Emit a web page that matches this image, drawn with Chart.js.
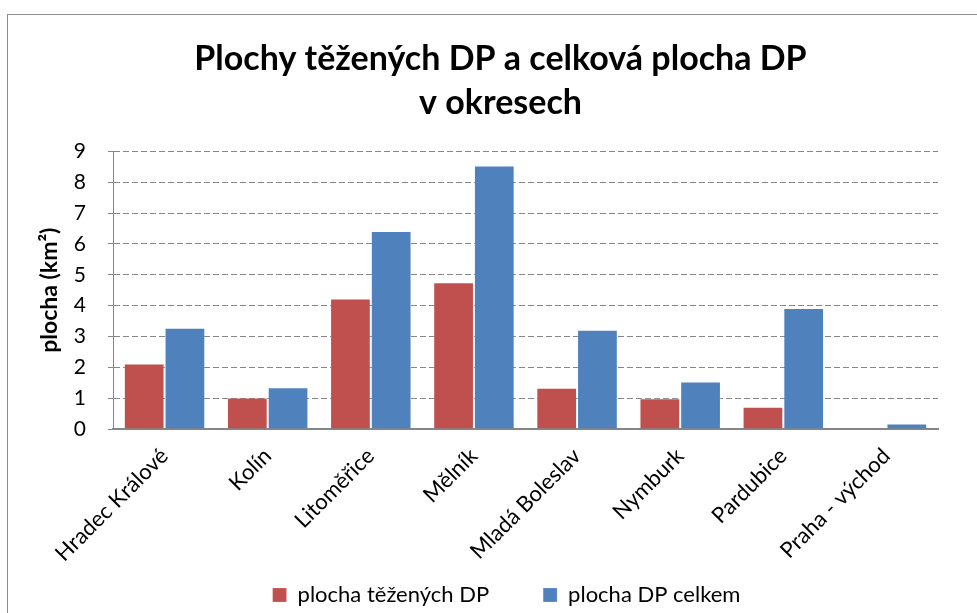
<!DOCTYPE html>
<html>
<head>
<meta charset="utf-8">
<script src="https://cdn.jsdelivr.net/npm/chart.js@4"></script>
<style>
  html, body { margin: 0; padding: 0; background: #fff; }
  #wrap { width: 977px; height: 613px; }
</style>
</head>
<body>
<div id="wrap"><canvas id="myChart"></canvas></div>
<script>
const okresy = ["Hradec Králové", "Kolín", "Litoměřice", "Mělník", "Mladá Boleslav", "Nymburk", "Pardubice", "Praha - východ"]
const tezene = [2.12, 1.02, 4.23, 4.76, 1.34, 1.00, 0.72, 0]
const celkem = [3.28, 1.35, 6.42, 8.54, 3.22, 1.54, 3.92, 0.18]

const FONT = "Lato, Carlito, Calibri, sans-serif"

// outer frame like the Excel chart area
const frame = {
  id: "frame",
  beforeDraw(chart) {
    // let the rotated category labels run below the axis box (they are clipped to it otherwise)
    const x = chart.scales.x
    x.bottom = x.top + 150
    // legend sits a bit right of centre in the original
    chart.legend.left += 6
    chart.legend.right += 6
  },
  afterDraw(chart) {
    const ctx = chart.ctx
    ctx.save()
    ctx.strokeStyle = "#8c8c8c"
    ctx.lineWidth = 1
    ctx.strokeRect(7.5, 14.5, 1000, 1000)
    ctx.restore()
  }
}

const ctx = document.getElementById("myChart").getContext("2d")
const chart = new Chart(ctx, {
  type: "bar",
  data: {
    labels: okresy,
    datasets: [
      { label: "plocha těžených DP", data: tezene, backgroundColor: "#C0504D", borderColor: "rgba(255,255,255,0.2)", borderWidth: 1, yAxisID: "y" },
      { label: "plocha DP celkem", data: celkem, backgroundColor: "#4F81BD", borderColor: "rgba(255,255,255,0.2)", borderWidth: 1, yAxisID: "y" }
    ]
  },
  options: {
    responsive: true,
    maintainAspectRatio: false,
    animation: false,
    layout: { padding: { left: 24, right: 0, top: 0, bottom: -3 } },
    datasets: { bar: { categoryPercentage: 0.79, barPercentage: 1.0 } },
    plugins: {
      title: {
        display: true,
        text: ["Plochy těžených DP a celková plocha DP", "v okresech"],
        color: "#000",
        font: { family: FONT, size: 34, weight: "bold", lineHeight: 1.3 },
        padding: { top: 37, bottom: 26 }
      },
      legend: {
        position: "bottom",
        labels: {
          color: "#000",
          font: { family: FONT, size: 22 },
          boxWidth: 14,
          boxHeight: 14,
          padding: 54
        }
      },
      tooltip: { enabled: false }
    },
    scales: {
      x: {
        grid: { display: false },
        border: { display: true, color: "#868686", width: 2 },
        ticks: {
          color: "#000",
          font: { family: FONT, size: 22 },
          minRotation: 45,
          maxRotation: 45,
          autoSkip: false,
          padding: 6
        },
        afterFit(scale) { scale.height = 101 }
      },
      y: {
        min: 0,
        max: 9,
        ticks: { stepSize: 1, color: "#000", font: { family: FONT, size: 21 }, padding: 22 },
        grid: { color: "#868686", lineWidth: 1, tickLength: 5, tickBorderDash: [] },
        border: { display: true, color: "#868686", width: 1, dash: [6, 3] },
        title: {
          display: true,
          text: "plocha (km²)",
          color: "#000",
          font: { family: FONT, size: 23, weight: "bold" },
          padding: { top: 12, bottom: 0 }
        },
        afterFit(scale) { scale.width = 89 }
      },
      // empty right-hand spacer so the plot ends where the original does
      y2: {
        position: "right",
        display: true,
        min: 0,
        max: 9,
        ticks: { display: false },
        grid: { display: false },
        border: { display: false },
        afterFit(scale) { scale.width = 39 }
      }
    }
  },
  plugins: [frame]
})
</script>
</body>
</html>
